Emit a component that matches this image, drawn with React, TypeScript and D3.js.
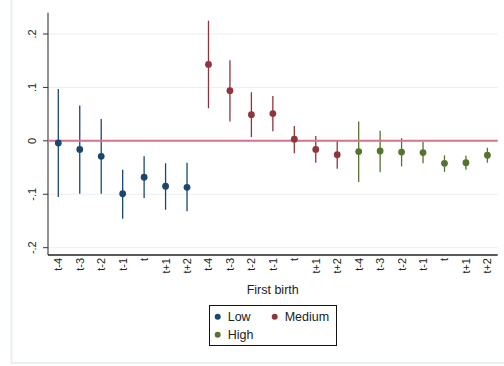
import React, { useEffect } from "react";
import * as d3 from "d3";

// Event-time labels for each group around first birth
const periods = ["t-4", "t-3", "t-2", "t-1", "t", "t+1", "t+2"];
const groups = ["Low", "Medium", "High"];
const groupColors = ["#1a476f", "#90353b", "#55752f"];

// Point estimates and confidence bounds per group
const lowEst = [-0.004, -0.016, -0.029, -0.099, -0.068, -0.085, -0.087];
const lowHi = [0.097, 0.066, 0.041, -0.054, -0.029, -0.042, -0.041];
const lowLo = [-0.105, -0.099, -0.099, -0.146, -0.107, -0.129, -0.132];

const medEst = [0.143, 0.094, 0.049, 0.051, 0.003, -0.016, -0.026];
const medHi = [0.225, 0.151, 0.091, 0.084, 0.028, 0.009, 0.0];
const medLo = [0.061, 0.036, 0.007, 0.018, -0.023, -0.041, -0.052];

const highEst = [-0.02, -0.019, -0.021, -0.022, -0.042, -0.041, -0.027];
const highHi = [0.036, 0.019, 0.005, -0.002, -0.027, -0.028, -0.013];
const highLo = [-0.077, -0.059, -0.048, -0.042, -0.058, -0.054, -0.041];

const yTicks = [0.2, 0.1, 0, -0.1, -0.2];
const yTickLabels = [".2", ".1", "0", "-.1", "-.2"];

const W = 504;
const H = 366;
const font = "Liberation Sans, Arial, Helvetica, sans-serif";

type Pt = { i: number; g: number; est: number; lo: number; hi: number };

const series = [
  { est: lowEst, lo: lowLo, hi: lowHi },
  { est: medEst, lo: medLo, hi: medHi },
  { est: highEst, lo: highLo, hi: highHi },
];

const points: Pt[] = series.flatMap((s, g) =>
  s.est.map((v, k) => ({ i: g * periods.length + k, g, est: v, lo: s.lo[k], hi: s.hi[k] }))
);

export default function App() {
  useEffect(() => {
    document.body.style.margin = "0";
  }, []);

  const n = groups.length * periods.length;
  const x = d3.scaleLinear().domain([-0.48, n - 1 + 0.48]).range([48, 497.7]);
  const y = d3.scaleLinear().domain([-0.2, 0.2]).range([247.7, 34]);
  const plotTop = 12.7;
  const plotBottom = 255;
  const [x0, x1] = x.range();

  const xLabels = groups.flatMap(() => periods);

  return (
    <svg width={W} height={H} style={{ display: "block" }} fontFamily={font}>
      <rect x={0} y={0} width={W} height={H} fill="#ffffff" />
      <rect x={11.5} y={-2} width={W} height={365} fill="none" stroke="#e8f0f2" strokeWidth={2} />

      {/* grid */}
      {yTicks.filter((t) => t !== 0).map((t) => (
        <line key={t} x1={x0} x2={x1} y1={y(t)} y2={y(t)} stroke="#e8f0f2" strokeWidth={1} />
      ))}

      {/* y axis */}
      <line x1={x0} x2={x0} y1={plotTop} y2={plotBottom} stroke="#555" strokeWidth={1.3} />
      {yTicks.map((t, k) => (
        <g key={t}>
          <line x1={x0 - 5} x2={x0} y1={y(t)} y2={y(t)} stroke="#333" strokeWidth={1} />
          <text
            transform={`translate(35.5,${y(t)}) rotate(-90)`}
            textAnchor="middle"
            fontSize={11}
            fill="#222"
          >
            {yTickLabels[k]}
          </text>
        </g>
      ))}

      {/* x axis */}
      <line x1={x0} x2={x1} y1={plotBottom} y2={plotBottom} stroke="#222" strokeWidth={1.3} />
      {xLabels.map((lab, i) => (
        <text
          key={i}
          transform={`translate(${x(i)},258) rotate(-90)`}
          textAnchor="end"
          dominantBaseline="central"
          fontSize={11}
          fill="#222"
        >
          {lab}
        </text>
      ))}
      <text x={272.7} y={294} textAnchor="middle" fontSize={12.5} fill="#222">
        First birth
      </text>

      {/* confidence intervals */}
      {points.map((p) => (
        <line
          key={"ci" + p.i}
          x1={x(p.i)}
          x2={x(p.i)}
          y1={y(p.lo)}
          y2={y(p.hi)}
          stroke={groupColors[p.g]}
          strokeWidth={1.3}
        />
      ))}

      {/* zero reference line */}
      <line x1={x0} x2={x1} y1={y(0)} y2={y(0)} stroke="#d7728c" strokeWidth={2} />

      {/* point estimates */}
      {points.map((p) => (
        <circle key={"pt" + p.i} cx={x(p.i)} cy={y(p.est)} r={3.4} fill={groupColors[p.g]} />
      ))}

      {/* legend */}
      <rect x={209.5} y={305.5} width={127} height={40} fill="#fff" stroke="#111" strokeWidth={1} />
      {groups.map((g, k) => {
        const lx = k === 1 ? 274.7 : 217.7;
        const ly = k === 2 ? 334.7 : 316.7;
        return (
          <g key={g}>
            <circle cx={lx} cy={ly} r={3} fill={groupColors[k]} />
            <text x={lx + 10} y={ly} dominantBaseline="central" fontSize={12.5} fill="#222">
              {g}
            </text>
          </g>
        );
      })}
    </svg>
  );
}
